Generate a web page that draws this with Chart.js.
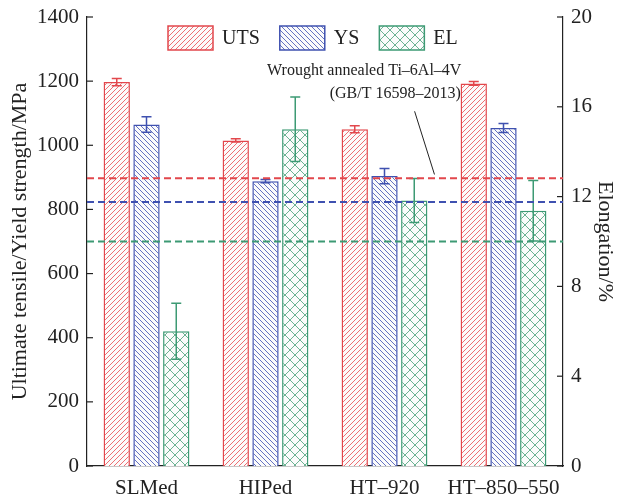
<!DOCTYPE html>
<html>
<head>
<meta charset="utf-8">
<script src="https://cdn.jsdelivr.net/npm/chart.js@4"></script>
<style>
  html, body { margin: 0; padding: 0; background: #fff; }
  #box { width: 618px; height: 500px; }
</style>
</head>
<body>
<div id="box"><canvas id="graph" width="618" height="500"></canvas></div>
<script>
// data
var categories = ['SLMed', 'HIPed', 'HT\u2013920', 'HT\u2013850\u2013550'];
var utsValues = [1197, 1015, 1050, 1193];
var utsErrors = [11, 5, 11, 6];
var ysValues = [1065, 888, 904, 1054];
var ysErrors = [24, 5, 24, 14];
var elValues = [6.0, 15.0, 11.83, 11.37];
var elErrors = [1.25, 1.44, 0.98, 1.35];
var strengthTicks = [0, 200, 400, 600, 800, 1000, 1200, 1400];
var elongTicks = [0, 4, 8, 12, 16, 20];
var utsStandard = 897;
var ysStandard = 823;
var elStandard = 10;

var RED = '#e2474c';
var BLUE = '#3f51b0';
var GREEN = '#3d9a74';
var FONT = '"Liberation Serif", "DejaVu Serif", serif';

var ctx = document.getElementById('graph').getContext('2d');

// crisp one-pixel hatch tiles
function makePattern(color, kind) {
    var size = kind === 'cross' ? 10 : 5;
    var c = document.createElement('canvas');
    c.width = size; c.height = size;
    var g = c.getContext('2d');
    g.fillStyle = '#fbfbfb';
    g.fillRect(0, 0, size, size);
    g.fillStyle = color;
    for (var i = 0; i < size; i++) {
        if (kind === 'fwd' || kind === 'cross') g.fillRect(i, size - 1 - i, 1, 1);
        if (kind === 'back' || kind === 'cross') g.fillRect(i, i, 1, 1);
    }
    return ctx.createPattern(c, 'repeat');
}

var patUts = makePattern('#ef6e72', 'fwd');
var patYs = makePattern('#6573c2', 'back');
var patEl = makePattern('#6cb293', 'cross');

// error bars, standard lines, inward ticks, legend and note
var extras = {
    id: 'extras',
    afterDatasetsDraw: function (chart) {
        var g = chart.ctx;
        var area = chart.chartArea;
        var y = chart.scales.y, y2 = chart.scales.y2, x = chart.scales.x;
        var errs = [utsErrors, ysErrors, elErrors];

        g.save();
        chart.data.datasets.forEach(function (ds, di) {
            var meta = chart.getDatasetMeta(di);
            var sc = ds.yAxisID === 'y2' ? y2 : y;
            g.strokeStyle = ds.borderColor;
            g.lineWidth = 1.5;
            meta.data.forEach(function (bar, i) {
                var v = ds.data[i], e = errs[di][i];
                var top = sc.getPixelForValue(v + e);
                var bot = sc.getPixelForValue(v - e);
                g.beginPath();
                g.moveTo(bar.x, top); g.lineTo(bar.x, bot);
                g.moveTo(bar.x - 5, top); g.lineTo(bar.x + 5, top);
                g.moveTo(bar.x - 5, bot); g.lineTo(bar.x + 5, bot);
                g.stroke();
            });
        });

        // standard values
        g.lineWidth = 2;
        g.setLineDash([7, 4]);
        [[y, utsStandard, RED], [y, ysStandard, BLUE], [y2, elStandard, GREEN]].forEach(function (s) {
            var py = s[0].getPixelForValue(s[1]);
            g.strokeStyle = s[2];
            g.beginPath();
            g.moveTo(area.left, py); g.lineTo(area.right, py);
            g.stroke();
        });
        g.setLineDash([]);

        // inward ticks
        g.strokeStyle = '#222';
        g.lineWidth = 1.2;
        strengthTicks.forEach(function (t) {
            var py = y.getPixelForValue(t);
            g.beginPath(); g.moveTo(area.left, py); g.lineTo(area.left + 6, py); g.stroke();
        });
        elongTicks.forEach(function (t) {
            var py = y2.getPixelForValue(t);
            g.beginPath(); g.moveTo(area.right, py); g.lineTo(area.right - 6, py); g.stroke();
        });

        // legend
        var lx = 168, ly = 26;
        g.font = '20px ' + FONT;
        g.textBaseline = 'middle';
        g.textAlign = 'left';
        chart.data.datasets.forEach(function (ds) {
            g.fillStyle = ds.backgroundColor;
            g.fillRect(lx, ly, 45, 24);
            g.strokeStyle = ds.borderColor;
            g.lineWidth = 1.5;
            g.strokeRect(lx, ly, 45, 24);
            g.fillStyle = '#222';
            g.fillText(ds.label, lx + 54, ly + 13);
            lx += 54 + g.measureText(ds.label).width + 20;
        });

        // note for the wrought standard
        g.font = '16px ' + FONT;
        g.textAlign = 'center';
        g.fillStyle = '#222';
        g.fillText('Wrought annealed Ti\u20136Al\u20134V', x.getPixelForValue(1.83), y.getPixelForValue(1232));
        g.fillText('(GB/T 16598\u20132013)', x.getPixelForValue(2.09), y.getPixelForValue(1160));
        g.strokeStyle = '#222';
        g.lineWidth = 1;
        g.beginPath();
        g.moveTo(x.getPixelForValue(2.253), y.getPixelForValue(1106));
        g.lineTo(x.getPixelForValue(2.42), y.getPixelForValue(909));
        g.stroke();
        g.restore();
    }
};

var config = {
    type: 'bar',
    data: {
        labels: categories,
        datasets: [{
            label: 'UTS',
            data: utsValues,
            backgroundColor: patUts,
            borderColor: RED,
            borderWidth: 1.5,
            yAxisID: 'y'
        }, {
            label: 'YS',
            data: ysValues,
            backgroundColor: patYs,
            borderColor: BLUE,
            borderWidth: 1.5,
            yAxisID: 'y'
        }, {
            label: 'EL',
            data: elValues,
            backgroundColor: patEl,
            borderColor: GREEN,
            borderWidth: 1.5,
            yAxisID: 'y2'
        }]
    },
    options: {
        responsive: false,
        animation: false,
        categoryPercentage: 0.75,
        barPercentage: 0.885,
        layout: { padding: { top: 17, left: 0, right: 0, bottom: 0 } },
        plugins: {
            legend: { display: false },
            tooltip: { enabled: false }
        },
        scales: {
            x: {
                grid: { display: false },
                border: { display: true, color: '#222', width: 1.2 },
                ticks: { color: '#222', font: { family: FONT, size: 21 }, padding: 2, maxRotation: 0 },
                afterFit: function (s) { s.height = 34; }
            },
            y: {
                position: 'left',
                min: 0, max: 1400,
                afterBuildTicks: function (s) { s.ticks = strengthTicks.map(function (v) { return { value: v }; }); },
                grid: { display: false },
                border: { display: true, color: '#222', width: 1.2 },
                ticks: {
                    color: '#222', font: { family: FONT, size: 21 }, padding: 0,
                    callback: function (v) { return String(v); }
                },
                title: {
                    display: true,
                    text: 'Ultimate tensile/Yield strength/MPa',
                    color: '#222',
                    font: { family: FONT, size: 22 },
                    padding: { top: 7, bottom: 0 }
                },
                afterFit: function (s) { s.width = 87; }
            },
            y2: {
                position: 'right',
                min: 0, max: 20,
                afterBuildTicks: function (s) { s.ticks = elongTicks.map(function (v) { return { value: v }; }); },
                grid: { display: false },
                border: { display: true, color: '#222', width: 1.2 },
                ticks: {
                    color: '#222', font: { family: FONT, size: 21 }, padding: 0,
                    callback: function (v) { return String(v); }
                },
                title: {
                    display: true,
                    text: 'Elongation/%',
                    color: '#222',
                    font: { family: FONT, size: 22 },
                    padding: { top: 0, bottom: 0 }
                },
                afterFit: function (s) { s.width = 55; }
            }
        }
    },
    plugins: [extras]
};

var chart = new Chart(ctx, config);
</script>
</body>
</html>
